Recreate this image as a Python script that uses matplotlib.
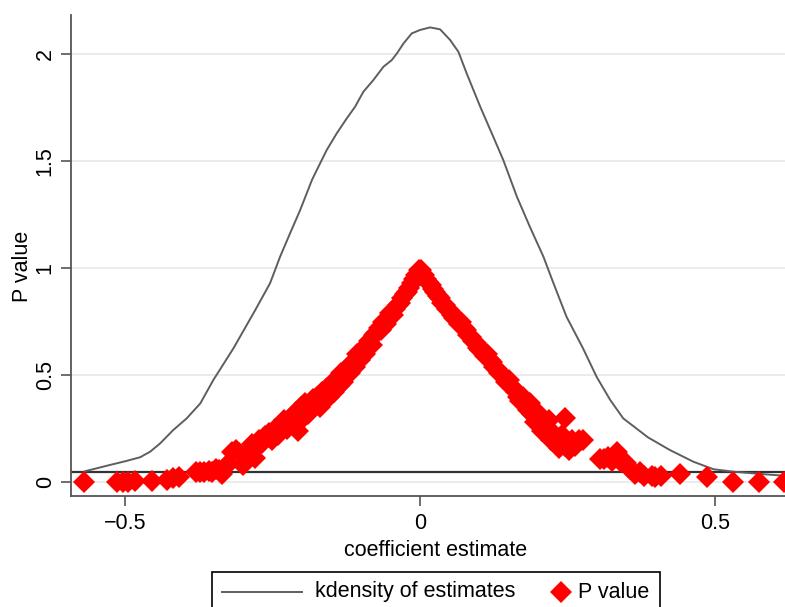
import matplotlib
matplotlib.use('Agg')
import matplotlib.pyplot as plt
from matplotlib.lines import Line2D
from matplotlib.patches import Rectangle

plt.rcParams['font.family'] = ['Liberation Sans', 'DejaVu Sans']

# ---------------- data ----------------
kde_x = [-0.569, -0.564, -0.525, -0.497, -0.474, -0.457, -0.440, -0.418, -0.395,
         -0.372, -0.350, -0.316, -0.279, -0.254, -0.237, -0.220, -0.203, -0.183,
         -0.172, -0.158, -0.141, -0.124, -0.110, -0.096, -0.079, -0.062, -0.048,
         -0.039, -0.028, -0.014, 0.000, 0.017, 0.034, 0.051, 0.065, 0.079, 0.102,
         0.124, 0.141, 0.164, 0.186, 0.209, 0.226, 0.248, 0.276, 0.299, 0.322,
         0.344, 0.386, 0.423, 0.463, 0.497, 0.530, 0.576, 0.615]
kde_y = [0.050, 0.054, 0.081, 0.100, 0.117, 0.143, 0.182, 0.244, 0.299,
         0.369, 0.478, 0.626, 0.805, 0.930, 1.054, 1.164, 1.272, 1.413,
         1.475, 1.553, 1.631, 1.701, 1.755, 1.825, 1.880, 1.942, 1.973,
         2.005, 2.051, 2.098, 2.114, 2.126, 2.117, 2.067, 2.012, 1.911, 1.755,
         1.615, 1.506, 1.335, 1.194, 1.054, 0.930, 0.774, 0.626, 0.493, 0.385,
         0.299, 0.210, 0.151, 0.096, 0.061, 0.050, 0.039, 0.031]

pv_x = [-0.569, -0.513, -0.503, -0.494, -0.482, -0.454, -0.428, -0.418, -0.408,
        -0.380, -0.372, -0.365, -0.358, -0.352, -0.345, -0.340, -0.336, -0.330,
        -0.325, -0.318, -0.312, -0.306, -0.300, -0.296, -0.290, -0.285, -0.280,
        -0.276, -0.272, -0.268, -0.262, -0.256, -0.250, -0.245, -0.240, -0.235,
        -0.230, -0.225, -0.220, -0.215, -0.210, -0.206, -0.202, -0.198, -0.194,
        -0.190, -0.186, -0.182, -0.178, -0.174, -0.170, -0.166, -0.162, -0.158,
        -0.154, -0.150, -0.146, -0.142, -0.138, -0.134, -0.130, -0.126, -0.122,
        -0.118, -0.114, -0.110, -0.106, -0.102, -0.098, -0.094, -0.090, -0.086,
        -0.082, -0.078, -0.074, -0.070, -0.066, -0.062, -0.058, -0.054, -0.050,
        -0.046, -0.042, -0.038, -0.034, -0.030, -0.026, -0.022, -0.018, -0.014,
        -0.010, -0.006, -0.002,
        0.002, 0.006, 0.010, 0.014, 0.018, 0.022, 0.026, 0.030, 0.034, 0.038,
        0.042, 0.046, 0.050, 0.054, 0.058, 0.062, 0.066, 0.070, 0.074, 0.078,
        0.082, 0.086, 0.090, 0.094, 0.098, 0.102, 0.106, 0.110, 0.114, 0.118,
        0.122, 0.126, 0.130, 0.134, 0.138, 0.142, 0.146, 0.150, 0.154, 0.158,
        0.162, 0.166, 0.170, 0.174, 0.178, 0.182, 0.186, 0.190, 0.194, 0.198,
        0.202, 0.206, 0.210, 0.214, 0.218, 0.222, 0.226, 0.230, 0.236, 0.240,
        0.245, 0.246, 0.252, 0.258, 0.262, 0.270, 0.276, 0.305, 0.312, 0.318,
        0.325, 0.333, 0.340, 0.348, 0.356, 0.364, 0.372, 0.380, 0.392, 0.398,
        0.408, 0.440, 0.486, 0.530, 0.574, 0.616]
pv_p = [0.000, 0.001, 0.001, 0.002, 0.004, 0.008, 0.013, 0.018, 0.024,
        0.046, 0.050, 0.047, 0.055, 0.050, 0.062, 0.058, 0.040, 0.070,
        0.085, 0.140, 0.150, 0.135, 0.080, 0.120, 0.130, 0.180, 0.115,
        0.170, 0.200, 0.185, 0.215, 0.230, 0.200, 0.250, 0.220, 0.240,
        0.290, 0.250, 0.300, 0.270, 0.330, 0.240, 0.350, 0.300, 0.370,
        0.320, 0.340, 0.390, 0.360, 0.400, 0.350, 0.420, 0.380, 0.440,
        0.400, 0.460, 0.420, 0.480, 0.450, 0.510, 0.470, 0.500, 0.540,
        0.510, 0.560, 0.540, 0.600, 0.570, 0.620, 0.600, 0.640, 0.660,
        0.640, 0.690, 0.700, 0.720, 0.710, 0.750, 0.740, 0.770, 0.790,
        0.780, 0.810, 0.830, 0.840, 0.860, 0.880, 0.890, 0.910, 0.930,
        0.950, 0.970, 0.990,
        0.990, 0.970, 0.950, 0.935, 0.920, 0.905, 0.890, 0.870, 0.860, 0.840,
        0.830, 0.810, 0.800, 0.780, 0.770, 0.760, 0.740, 0.750, 0.720, 0.710,
        0.690, 0.680, 0.660, 0.650, 0.630, 0.620, 0.610, 0.590, 0.600, 0.570,
        0.560, 0.540, 0.530, 0.510, 0.500, 0.490, 0.470, 0.480, 0.450, 0.440,
        0.420, 0.400, 0.380, 0.400, 0.360, 0.340, 0.370, 0.320, 0.280, 0.330,
        0.300, 0.240, 0.280, 0.250, 0.290, 0.200, 0.230, 0.190, 0.160, 0.220,
        0.300, 0.170, 0.150, 0.200, 0.170, 0.200, 0.200, 0.110, 0.110, 0.120,
        0.100, 0.140, 0.095, 0.090, 0.060, 0.040, 0.050, 0.030, 0.030, 0.025,
        0.030, 0.040, 0.025, 0.003, 0.002, 0.001]

threshold = 0.05
xticks = [-0.5, 0, 0.5]
xtick_labels = ['\u22120.5', '0', '0.5']
yticks = [0, 0.5, 1, 1.5, 2]
ytick_labels = ['0', '0.5', '1', '1.5', '2']
x_label = 'coefficient estimate'
y_label = 'P value'
legend_labels = ['kdensity of estimates', 'P value']

# ---------------- figure ----------------
W, H = 785, 607
FS = 15.5
MS = 10.8
fig = plt.figure(figsize=(W / 100, H / 100), dpi=100)
ax = fig.add_axes([71 / W, 111 / H, 714 / W, 481 / H])
ax.set_xlim(-0.591, 0.618)
ax.set_ylim(-0.064, 2.184)

ax.set_axisbelow(True)
ax.yaxis.grid(True, color='#e8e8e8', lw=1.2)
ax.xaxis.grid(False)

for s in ['top', 'right']:
    ax.spines[s].set_visible(False)
for s in ['left', 'bottom']:
    ax.spines[s].set_color('#555555')
    ax.spines[s].set_linewidth(1.3)

ax.set_xticks(xticks)
ax.set_xticklabels(xtick_labels)
ax.set_yticks(yticks)
ax.set_yticklabels(ytick_labels, rotation=90)
for lab in ax.get_yticklabels():
    lab.set_va('center')
ax.tick_params(axis='both', direction='out', length=7, width=1.2,
               color='#555555', labelsize=FS)
ax.tick_params(axis='x', pad=5)
ax.tick_params(axis='y', pad=4)

ax.axhline(threshold, color='#333333', lw=1.6, zorder=2)
ax.plot(kde_x, kde_y, color='#5e5e5e', lw=1.4, zorder=3)
ax.plot(pv_x, pv_p, ls='none', marker='D', ms=MS, color='red',
        mec='red', mew=0, zorder=4)

fig.text(23 / W, 1 - 266 / H, y_label, rotation=90, ha='center',
         va='center', fontsize=FS)
fig.text(436 / W, 1 - 551 / H, x_label, ha='center', va='center',
         fontsize=FS)

# legend (drawn manually to match layout)
ly = 1 - 592 / H
fig.patches.append(Rectangle((212 / W, 1 - 625 / H), 448 / W, 53 / H,
                             transform=fig.transFigure, fill=False,
                             ec='black', lw=1.2))
fig.lines.append(Line2D([222 / W, 302 / W], [ly, ly], transform=fig.transFigure,
                        color='#5e5e5e', lw=1.4))
fig.lines.append(Line2D([561 / W], [ly], transform=fig.transFigure, ls='none',
                        marker='D', ms=MS, color='red', mew=0))
fig.text(315 / W, ly, legend_labels[0], ha='left', va='center', fontsize=FS)
fig.text(578 / W, ly, legend_labels[1], ha='left', va='center', fontsize=FS)

fig.savefig('out.png', dpi=100)
